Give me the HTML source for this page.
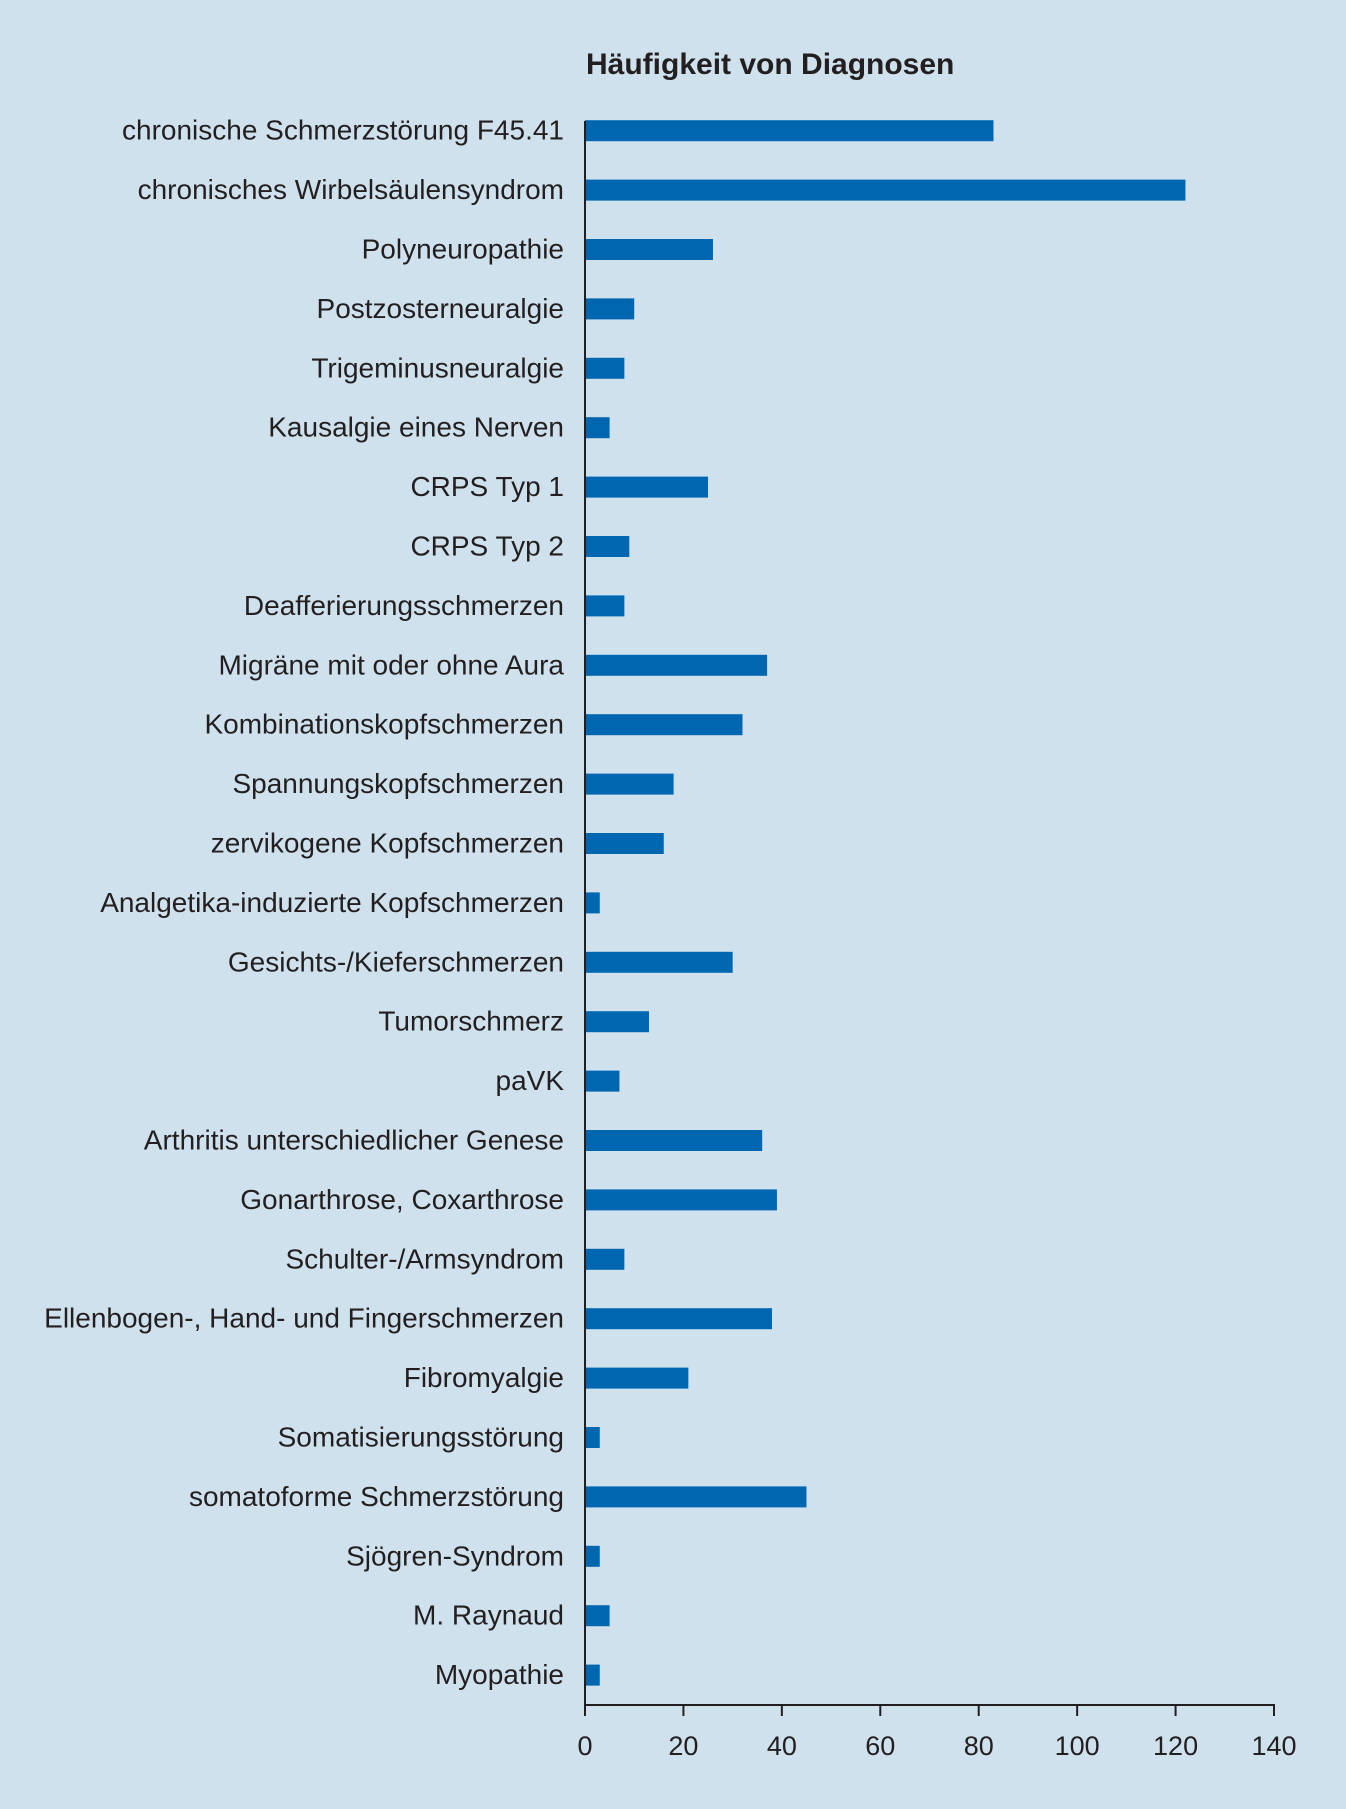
<!DOCTYPE html>
<html><head><meta charset="utf-8"><style>
html,body{margin:0;padding:0;background:#cfe1ed;}
svg{display:block;font-family:"Liberation Sans",sans-serif;}
</style></head><body>
<svg id="chart" width="1346" height="1809" viewBox="0 0 1346 1809" xmlns="http://www.w3.org/2000/svg">
<rect width="1346" height="1809" fill="#cfe1ed"/>
<text x="586" y="74" font-size="30" font-weight="bold" fill="#231f20">Häufigkeit von Diagnosen</text>
<g id="bars"></g><g id="labels"></g><g id="axis"></g>
</svg>
<script>
const categories=["chronische Schmerzstörung F45.41","chronisches Wirbelsäulensyndrom","Polyneuropathie","Postzosterneuralgie","Trigeminusneuralgie","Kausalgie eines Nerven","CRPS Typ 1","CRPS Typ 2","Deafferierungsschmerzen","Migräne mit oder ohne Aura","Kombinationskopfschmerzen","Spannungskopfschmerzen","zervikogene Kopfschmerzen","Analgetika-induzierte Kopfschmerzen","Gesichts-/Kieferschmerzen","Tumorschmerz","paVK","Arthritis unterschiedlicher Genese","Gonarthrose, Coxarthrose","Schulter-/Armsyndrom","Ellenbogen-, Hand- und Fingerschmerzen","Fibromyalgie","Somatisierungsstörung","somatoforme Schmerzstörung","Sjögren-Syndrom","M. Raynaud","Myopathie"];
const values=[83,122,26,10,8,5,25,9,8,37,32,18,16,3,30,13,7,36,39,8,38,21,3,45,3,5,3];
const ticks=[0,20,40,60,80,100,120,140];
const NS="http://www.w3.org/2000/svg";
const x0=585,x1=1274,xmax=140,yTop=101,step=59.4,axisY=1705;
const xs=v=>x0+(x1-x0)*v/xmax;
const yc=i=>yTop+step*(i+0.5);
function mk(t,a,p){const e=document.createElementNS(NS,t);for(const k in a)e.setAttribute(k,a[k]);p.appendChild(e);return e;}
const gb=document.getElementById('bars'),gl=document.getElementById('labels'),ga=document.getElementById('axis');
categories.forEach((c,i)=>{
  const r=mk('rect',{x:x0,y:yc(i)-10.5,width:xs(values[i])-x0,height:21,fill:'#0066b0'},gb);
  
  
  const t=mk('text',{x:564,y:yc(i)+9,'font-size':28,'text-anchor':'end',fill:'#231f20'},gl);
  t.textContent=c;
  
  
});
const yl=mk('line',{x1:x0,y1:121,x2:x0,y2:axisY+1,stroke:'#231f20','stroke-width':2},ga);


const xl=mk('line',{x1:x0-1,y1:axisY,x2:x1+1,y2:axisY,stroke:'#231f20','stroke-width':2},ga);


ticks.forEach(v=>{
  const tk=mk('line',{x1:xs(v),y1:axisY,x2:xs(v),y2:axisY+11,stroke:'#231f20','stroke-width':2},ga);
  
  
  const t=mk('text',{x:xs(v),y:1755,'font-size':27,'text-anchor':'middle',fill:'#231f20'},ga);
  t.textContent=v;
  
  
});
</script>
</body></html>
